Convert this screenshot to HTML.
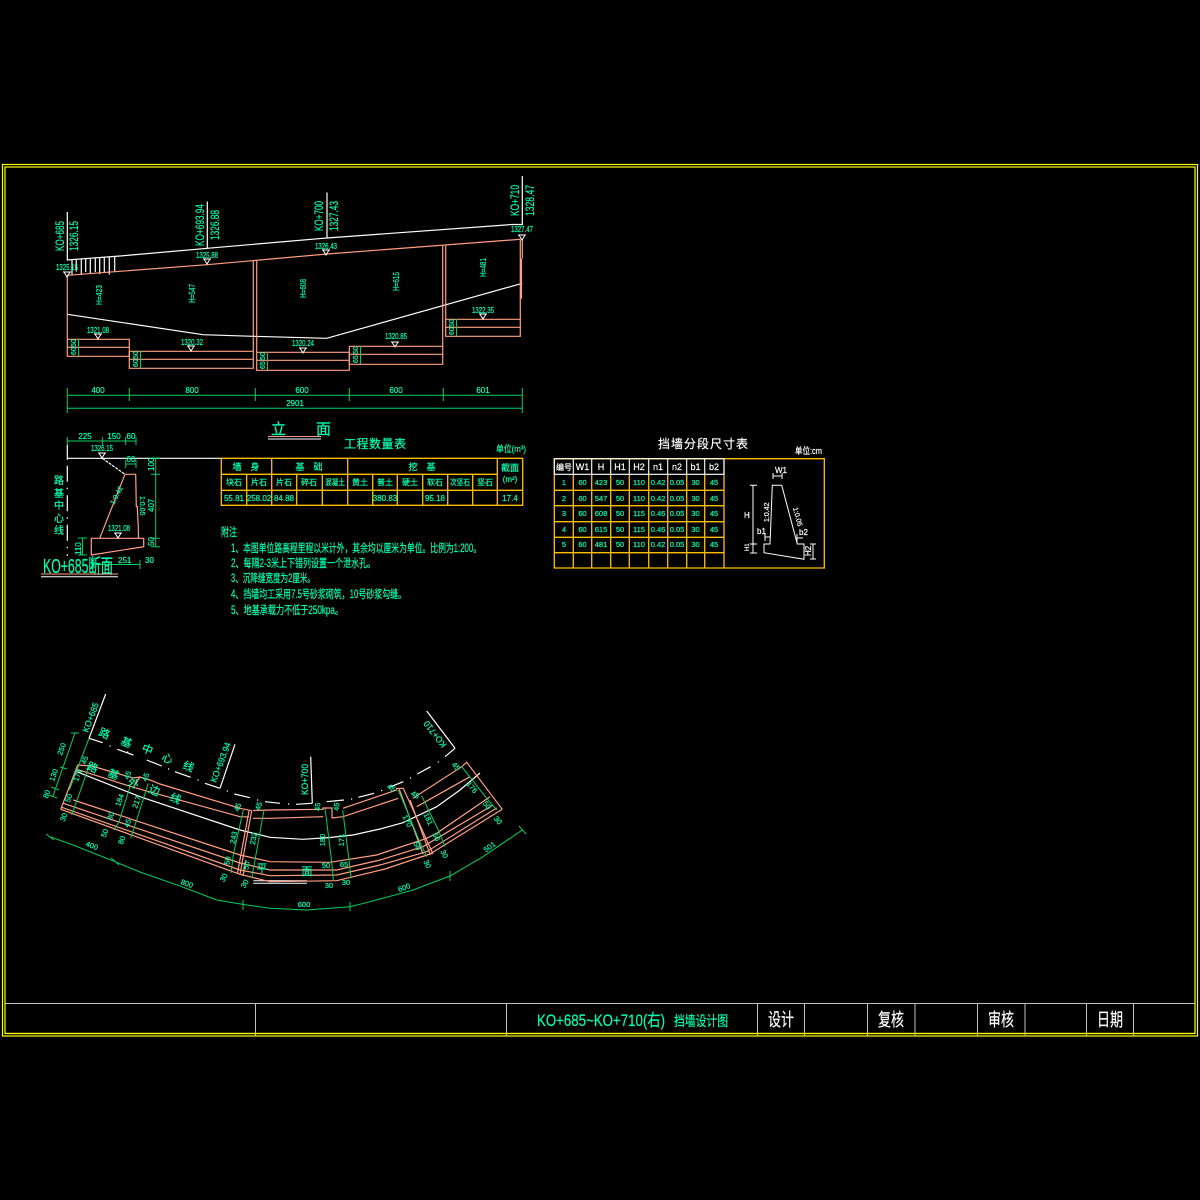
<!DOCTYPE html>
<html><head><meta charset="utf-8"><style>
html,body{margin:0;padding:0;background:#000;width:1200px;height:1200px;overflow:hidden}
svg{display:block}
text{font-family:"Liberation Sans","WenQuanYi Zen Hei","Noto Sans CJK SC",sans-serif;fill:#00ffb0;stroke:#00ffb0;stroke-width:.2}
.c{text-anchor:middle}
.s{fill:none;stroke:#ff9f80;stroke-width:1.2}
.w{fill:none;stroke:#fff;stroke-width:1.2}
.g{fill:none;stroke:#00d060;stroke-width:1}
.y{fill:none;stroke:#ffbf00;stroke-width:1.3}
text.wt{fill:#fff;stroke:#fff}
</style></head><body>
<svg width="1200" height="1200" viewBox="0 0 1200 1200" xmlns="http://www.w3.org/2000/svg">
<defs>
<g id="m"><path d="M-4 0H4M-3 0L0 5L3 0" fill="none" stroke="#fff" stroke-width="1"/></g>
</defs>
<rect width="1200" height="1200" fill="#000"/>

<!-- frame -->
<rect x="2.5" y="164.5" width="1195" height="871.5" fill="none" stroke="#ffff00" stroke-width="1.2"/>
<rect x="5" y="167" width="1190" height="866.5" fill="none" stroke="#ffff00" stroke-width="1.2"/>
<path d="M5 1003.5H1195M255.5 1003.5V1036M506.5 1003.5V1036M757.5 1003.5V1036M804.5 1003.5V1036M867.5 1003.5V1036M915 1003.5V1036M977.5 1003.5V1036M1025 1003.5V1036M1086.5 1003.5V1036M1133.5 1003.5V1036" stroke="#c0c0c0" fill="none" stroke-width="1"/>
<path d="M5 1033.5H1195" stroke="#ffff00" stroke-width="1.2"/>
<text x="537" y="1026" font-size="17" textLength="128" lengthAdjust="spacingAndGlyphs">KO+685~KO+710(右)</text>
<text x="674" y="1026" font-size="14" textLength="54" lengthAdjust="spacingAndGlyphs">挡墙设计图</text>
<text x="768" y="1026" font-size="18" class="wt" textLength="26" lengthAdjust="spacingAndGlyphs">设计</text>
<text x="878" y="1026" font-size="18" class="wt" textLength="26" lengthAdjust="spacingAndGlyphs">复核</text>
<text x="988" y="1026" font-size="18" class="wt" textLength="26" lengthAdjust="spacingAndGlyphs">审核</text>
<text x="1097" y="1026" font-size="18" class="wt" textLength="26" lengthAdjust="spacingAndGlyphs">日期</text>

<!-- elevation -->
<path class="w" d="M67.3 212V260L120 256L207.3 248.3V201.5M207.3 248.3L327 238V192.5M327 238L512 224.5H522.3V176"/>
<path class="w" d="M67.3 314.3L203 334.7L253 336.3L326.7 338.3L522.3 283.3"/>
<path class="w" d="M72 259V275.5M76.3 260V271.5M81.3 258.5V275M85.7 258.5V272M90.3 258.5V274M95.3 258.5V272M99.7 257.5V274M104.3 257V272M109.3 257V274.5M114.7 256.5V271"/>
<path class="s" d="M67.3 275.3L207 264.7L327 254L520.3 239.3"/>
<path class="s" d="M67.3 275.3V356.3H129.3V339.3H67.3M67.3 347.3H129.3"/>
<path class="s" d="M129.3 351.3V368.3H253.3V260.3M129.3 351.3H253.3M129.3 359.3H253.3"/>
<path class="s" d="M256.7 260V370.3H349.3V352.3H256.7M256.7 360.3H349.3"/>
<path class="s" d="M349.3 346.3V364.3H442.7V245.7M349.3 346.3H442.7M349.3 354.3H442.7"/>
<path class="s" d="M445.7 245.7V336.3H520.3V239.3M445.7 319.3H520.3M445.7 327.3H520.3"/>
<path class="s" d="M522.3 239V258.7" /><path d="M521 258.7V298.7" stroke="#ff9f80" stroke-width="2" fill="none"/>
<use href="#m" x="67" y="272"/><use href="#m" x="207" y="259"/><use href="#m" x="326" y="250"/><use href="#m" x="522" y="235"/>
<use href="#m" x="98" y="334"/><use href="#m" x="191" y="346"/><use href="#m" x="303" y="348"/><use href="#m" x="395" y="342"/><use href="#m" x="483" y="314"/>
<path class="g" d="M78.5 339V356M140.5 351V368M267.5 352V370M360.5 346V364M456.5 319V336"/>
<g font-size="12">
<text transform="translate(64,251) rotate(-90)" textLength="30" lengthAdjust="spacingAndGlyphs">KO+685</text>
<text transform="translate(78,251) rotate(-90)" textLength="30" lengthAdjust="spacingAndGlyphs">1326.15</text>
<text transform="translate(204,246) rotate(-90)" textLength="42" lengthAdjust="spacingAndGlyphs">KO+693.94</text>
<text transform="translate(219,240) rotate(-90)" textLength="30" lengthAdjust="spacingAndGlyphs">1326.88</text>
<text transform="translate(323,231) rotate(-90)" textLength="30" lengthAdjust="spacingAndGlyphs">KO+700</text>
<text transform="translate(338,231) rotate(-90)" textLength="30" lengthAdjust="spacingAndGlyphs">1327.43</text>
<text transform="translate(519,216) rotate(-90)" textLength="31" lengthAdjust="spacingAndGlyphs">KO+710</text>
<text transform="translate(534,216) rotate(-90)" textLength="31" lengthAdjust="spacingAndGlyphs">1328.47</text>
</g>
<g font-size="8">
<text x="56" y="270" textLength="22" lengthAdjust="spacingAndGlyphs">1325.15</text>
<text x="196" y="258" textLength="22" lengthAdjust="spacingAndGlyphs">1325.88</text>
<text x="315" y="249" textLength="22" lengthAdjust="spacingAndGlyphs">1326.43</text>
<text x="511" y="232" textLength="22" lengthAdjust="spacingAndGlyphs">1327.47</text>
<text x="87" y="333" textLength="22" lengthAdjust="spacingAndGlyphs">1321.08</text>
<text x="181" y="345" textLength="22" lengthAdjust="spacingAndGlyphs">1320.32</text>
<text x="292" y="346" textLength="22" lengthAdjust="spacingAndGlyphs">1320.24</text>
<text x="385" y="339" textLength="22" lengthAdjust="spacingAndGlyphs">1320.85</text>
<text x="472" y="313" textLength="22" lengthAdjust="spacingAndGlyphs">1322.35</text>
<text transform="translate(102,305) rotate(-90)" textLength="20" lengthAdjust="spacingAndGlyphs">H=423</text>
<text transform="translate(195,303) rotate(-90)" textLength="19" lengthAdjust="spacingAndGlyphs">H=547</text>
<text transform="translate(306,298) rotate(-90)" textLength="19" lengthAdjust="spacingAndGlyphs">H=608</text>
<text transform="translate(399,291) rotate(-90)" textLength="19" lengthAdjust="spacingAndGlyphs">H=615</text>
<text transform="translate(486,277) rotate(-90)" textLength="19" lengthAdjust="spacingAndGlyphs">H=481</text>
<g font-size="7">
<text transform="translate(76,347) rotate(-90)">50</text><text transform="translate(76,355) rotate(-90)">60</text>
<text transform="translate(138,359) rotate(-90)">50</text><text transform="translate(138,367) rotate(-90)">60</text>
<text transform="translate(265,360) rotate(-90)">50</text><text transform="translate(265,369) rotate(-90)">65</text>
<text transform="translate(358,354) rotate(-90)">50</text><text transform="translate(358,363) rotate(-90)">65</text>
<text transform="translate(454,327) rotate(-90)">50</text><text transform="translate(454,335) rotate(-90)">60</text>
</g>
<text class="c" x="98" y="393">400</text><text class="c" x="192" y="393">800</text><text class="c" x="302" y="393">600</text><text class="c" x="396" y="393">600</text><text class="c" x="483" y="393">601</text><text class="c" x="295" y="406">2901</text>
</g>
<path class="g" d="M67.3 395.3H522.3M67.3 408.3H522.3M67.3 388V401M129.3 388V401M255.3 388V401M349.3 388V401M443.3 388V401M522.3 388V413M67.3 401V413"/>

<!-- 立面 -->
<text x="271" y="434" font-size="15" textLength="14">立</text>
<text x="316" y="434" font-size="15" textLength="14">面</text>
<path d="M268 436.5H321" stroke="#ff9f80" stroke-width="1"/><path d="M268 439H321" stroke="#fff" stroke-width="1"/>

<!-- section -->
<path class="w" d="M67.3 445V458.3H221"/>
<path class="w" stroke-dasharray="1.5 6 16 6" d="M67.3 458.3V556"/>
<path class="w" stroke-dasharray="3 1" d="M102.3 458.3L125 474.3"/>
<path class="s" d="M125 474.3H135.7L136.3 506.7H137.3L138.3 528L138.5 538.3M125 474.3L99.7 538.3M91.3 538.3H143.7V546.7L91.3 555Z"/>
<path class="g" d="M67.3 441H136M67.3 437V445M102.3 437V445M125.7 437V445M136 437V445M125.7 464H136M125.7 460V468M136 460V468M155.7 458V546.7M151 458H160M151 474.3H160M151 538.3H160M151 546.7H160M82.5 538V555M78 538H87M78 555H87M92 564.5H140M92 560V569M140 560V569"/>
<use href="#m" x="102" y="453"/><use href="#m" x="118" y="533"/>
<g font-size="8">
<text class="c" x="85" y="439">225</text><text class="c" x="114" y="439">150</text><text class="c" x="131" y="439">60</text>
<text class="c" x="131" y="462">60</text>
<text x="91" y="451" textLength="22" lengthAdjust="spacingAndGlyphs">1326.15</text>
<text x="108" y="531" textLength="22" lengthAdjust="spacingAndGlyphs">1321.08</text>
<text transform="translate(154,471) rotate(-90)">100</text>
<text transform="translate(154,512) rotate(-90)">407</text>
<text transform="translate(154,546) rotate(-90)">50</text>
<text transform="translate(81,555) rotate(-90)">110</text>
<text x="118" y="563">251</text><text x="145" y="563">30</text>
<text transform="translate(114,505) rotate(-62)" font-size="7">1:0.42</text>
<text transform="translate(140,496) rotate(90)" font-size="7">1:0.05</text>
</g>
<g font-size="10"><text class="c" x="59" y="484">路</text><text class="c" x="59" y="497">基</text><text class="c" x="59" y="509">中</text><text class="c" x="59" y="522">心</text><text class="c" x="59" y="534">线</text></g>
<text x="43" y="573" font-size="20" textLength="70" lengthAdjust="spacingAndGlyphs">KO+685断面</text>
<path d="M41 574H118" stroke="#ff9f80" stroke-width="1"/><path d="M41 576.7H118" stroke="#fff" stroke-width="1"/>

<!-- table 1 -->
<path class="y" d="M221.3 458.3H522.7V505.3H221.3ZM221.3 474.3H497.3M221.3 490.3H522.7M271.7 458.3V505.3M347.7 458.3V505.3M497.3 458.3V505.3M246.7 474.3V505.3M296.7 474.3V505.3M322.3 474.3V505.3M372.7 474.3V505.3M397.3 474.3V505.3M422.7 474.3V505.3M447.7 474.3V505.3M472.7 474.3V505.3"/>
<g font-size="11">
<text x="344" y="448" textLength="62" font-size="12">工程数量表</text>
<text x="496" y="452" font-size="9" textLength="30" lengthAdjust="spacingAndGlyphs">单位(m³)</text>
<text class="c" x="246" y="470" font-size="9">墙　身</text>
<text class="c" x="309" y="470" font-size="9">基　础</text>
<text class="c" x="422" y="470" font-size="9">挖　基</text>
<text class="c" x="510" y="471" font-size="9">截面</text>
<text class="c" x="510" y="482" font-size="8">(m²)</text>
</g>
<g font-size="8">
<text class="c" x="234" y="485">块石</text><text class="c" x="259" y="485">片石</text><text class="c" x="284" y="485">片石</text><text class="c" x="309" y="485">碎石</text><text class="c" x="335" y="485" textLength="20" lengthAdjust="spacingAndGlyphs">混凝土</text><text class="c" x="360" y="485">黄土</text><text class="c" x="385" y="485">普土</text><text class="c" x="410" y="485">硬土</text><text class="c" x="435" y="485">软石</text><text class="c" x="460" y="485" textLength="20" lengthAdjust="spacingAndGlyphs">次坚石</text><text class="c" x="485" y="485">坚石</text>
<text class="c" x="234" y="501">55.81</text><text class="c" x="259" y="501">258.02</text><text class="c" x="284" y="501">84.88</text><text class="c" x="385" y="501">380.83</text><text class="c" x="435" y="501">95.18</text><text class="c" x="510" y="501">17.4</text>
</g>

<!-- notes -->
<g font-size="11.5">
<text x="221" y="536" textLength="16" lengthAdjust="spacingAndGlyphs">附注</text>
<text x="231" y="552" textLength="250" lengthAdjust="spacingAndGlyphs">1、本图单位路高程里程以米计外，其余均以厘米为单位。比例为1:200。</text>
<text x="231" y="567" textLength="144" lengthAdjust="spacingAndGlyphs">2、每隔2-3米上下错列设置一个泄水孔。</text>
<text x="231" y="582" textLength="84" lengthAdjust="spacingAndGlyphs">3、沉降缝宽度为2厘米。</text>
<text x="231" y="598" textLength="175" lengthAdjust="spacingAndGlyphs">4、挡墙均工采用7.5号砂浆砌筑，10号砂浆勾缝。</text>
<text x="231" y="614" textLength="112" lengthAdjust="spacingAndGlyphs">5、地基承载力不低于250kpa。</text>
</g>

<!-- table 2 -->
<path class="y" d="M554.3 458.7H824.3V568H554.3ZM554.3 490.3H724M554.3 505.7H724M554.3 521.7H724M554.3 537.3H724M554.3 552.7H724M573.3 474.3V568M591.7 474.3V568M610.7 474.3V568M629.3 474.3V568M648.7 474.3V568M667.7 474.3V568M686.7 474.3V568M704.7 474.3V568M724 458.7V568"/>
<path d="M554.3 458.7H724V474.3H554.3ZM573.3 458.7V474.3M591.7 458.7V474.3M610.7 458.7V474.3M629.3 458.7V474.3M648.7 458.7V474.3M667.7 458.7V474.3M686.7 458.7V474.3M704.7 458.7V474.3" fill="none" stroke="#fff" stroke-width="1.1"/>
<text class="wt" x="658" y="448" font-size="12" textLength="90" lengthAdjust="spacing">挡墙分段尺寸表</text>
<text class="wt" x="795" y="454" font-size="9" textLength="27" lengthAdjust="spacingAndGlyphs">单位:cm</text>
<g font-size="9">
<text class="wt c" x="564" y="470" font-size="8">编号</text><text class="wt c" x="582.5" y="470">W1</text><text class="wt c" x="601" y="470">H</text><text class="wt c" x="620" y="470">H1</text><text class="wt c" x="639" y="470">H2</text><text class="wt c" x="658" y="470">n1</text><text class="wt c" x="677" y="470">n2</text><text class="wt c" x="695.5" y="470">b1</text><text class="wt c" x="714" y="470">b2</text>
</g>
<g font-size="7.5">
<g><text class="c" x="564" y="485">1</text><text class="c" x="582.5" y="485">60</text><text class="c" x="601" y="485">423</text><text class="c" x="620" y="485">50</text><text class="c" x="639" y="485">110</text><text class="c" x="658" y="485">0.42</text><text class="c" x="677" y="485">0.05</text><text class="c" x="695.5" y="485">30</text><text class="c" x="714" y="485">45</text></g>
<g><text class="c" x="564" y="501">2</text><text class="c" x="582.5" y="501">60</text><text class="c" x="601" y="501">547</text><text class="c" x="620" y="501">50</text><text class="c" x="639" y="501">110</text><text class="c" x="658" y="501">0.42</text><text class="c" x="677" y="501">0.05</text><text class="c" x="695.5" y="501">30</text><text class="c" x="714" y="501">45</text></g>
<g><text class="c" x="564" y="516">3</text><text class="c" x="582.5" y="516">60</text><text class="c" x="601" y="516">608</text><text class="c" x="620" y="516">50</text><text class="c" x="639" y="516">115</text><text class="c" x="658" y="516">0.46</text><text class="c" x="677" y="516">0.05</text><text class="c" x="695.5" y="516">30</text><text class="c" x="714" y="516">45</text></g>
<g><text class="c" x="564" y="532">4</text><text class="c" x="582.5" y="532">60</text><text class="c" x="601" y="532">615</text><text class="c" x="620" y="532">50</text><text class="c" x="639" y="532">115</text><text class="c" x="658" y="532">0.46</text><text class="c" x="677" y="532">0.05</text><text class="c" x="695.5" y="532">30</text><text class="c" x="714" y="532">45</text></g>
<g><text class="c" x="564" y="547">5</text><text class="c" x="582.5" y="547">60</text><text class="c" x="601" y="547">481</text><text class="c" x="620" y="547">50</text><text class="c" x="639" y="547">110</text><text class="c" x="658" y="547">0.42</text><text class="c" x="677" y="547">0.05</text><text class="c" x="695.5" y="547">30</text><text class="c" x="714" y="547">45</text></g>
</g>
<!-- mini section -->
<path d="M772.3 485.3H781.7L797.3 544H804V559.3L764 552.7V544H770L772.3 485.3Z" fill="none" stroke="#fff" stroke-width="1"/>
<path d="M772.500 476H782M773 473V479M782 473V479M750 485.300H757M753 485.300V553M750 544H757M750 553H757" fill="none" stroke="#fff" stroke-width="1"/>
<path d="M765 537H770M765 533V541M797 538H803M797 534V542M813 544V559M810 544H816M810 559H816" fill="none" stroke="#fff" stroke-width="1"/>
<g font-size="8">
<text class="wt" x="775" y="473">W1</text><text class="wt" x="744" y="518">H</text>
<text class="wt" x="757" y="534">b1</text><text class="wt" x="799" y="535">b2</text>
<text class="wt" transform="translate(769,522) rotate(-90)" font-size="7">1:0.42</text>
<text class="wt" transform="translate(793,508) rotate(75)" font-size="7">1:0.05</text>
<text class="wt" transform="translate(749,551) rotate(-90)" font-size="6">H1</text>
<text class="wt" transform="translate(811,556) rotate(-90)">H2</text>
</g>

<!-- plan: center / white -->
<path class="w" d="M105.7 694L89 738.3"/>
<path class="w" d="M235 744.3L220 788.3"/>
<path class="w" d="M310.7 756.7L312.3 803.3"/>
<path class="w" d="M426.7 711L455 748.3"/>
<path class="w" d="M89 738.3L102.7 742.7M117.3 749.3L133.3 755M146.7 760L161.7 766M175 771.7L190.7 777.3M205 783.3L220 788.3M234.3 794L250 797.7M265 801.7L280 803.3M296 804.3L312.3 803.3M326.7 801.7L344 800M358.3 797.3L374 793.3M389.3 787.3L403.3 781.7M417.3 774L430.7 766.7M445 756.7L455 748.3"/>
<path d="M109.5 746h1.2M127 752h1.2M168 769h1.2M197.500 780h1.2M226.700 791h1.2M257 800h1.2M288 804h1.2M335 801h1.2M351 799h1.2M381 790.500h1.2M410 778h1.2M437.700 762h1.2" stroke="#fff" stroke-width="1.2"/>
<path class="w" d="M76.700 771.700L140 796.700L240 830L270 837.300L303 839.300L330 837.500L353 835L380 829L403 822.700L436.700 806.700L460 790L480 773"/>
<path d="M253.300 880.700H307M253.300 883.300H307" stroke="#fff" stroke-width="1"/>
<!-- plan: salmon -->
<path class="s" d="M77.700 765L60.700 809.300"/>
<path class="s" d="M91.700 766L133.300 778L140 777L150 780L160 784L240 808.300L251.700 810.700"/>
<path class="s" d="M76.700 769.300L133.300 787.300L140 777M133.300 787.300L240 816.700L249 817"/>
<path class="s" d="M77.700 765L91.700 766"/>
<path class="s" d="M253 810.500L270 810L323 809.300V808H332V818M343 808.300L396.700 790V788.500L403.300 788.300L432.700 853.300L418 858"/>
<path class="s" d="M253 818.300L270 818.300L323.300 816.700M332 818L343 816.700L398.300 798.300"/>
<path class="s" d="M399.300 789.300L423 854M410 800L430 854"/>
<path class="s" d="M413 798.300L461.700 766.700L466.700 762.300L502.300 809.300M416.700 806.700L470 776.700"/>
<path class="s" d="M73.300 800L240 855L270 861.700L330 862.300L376.700 855L426.700 838.300L436.700 833.300L490 796.700"/>
<path class="s" d="M63.300 803.300L240 863L270 870L336.700 870L380 860L423 846.700L493 805"/>
<path class="s" d="M61.700 807.300L240 870L270 875.700L336.700 875L380 865L426.700 851.700L496.700 808"/>
<path class="s" d="M60.700 809.300L240 874.300L270 881.700L336.700 880.700L385 869L430 854L502.300 809.300"/>
<path class="s" d="M251.700 810.700L240 874.300M249 811L237.500 873M246 860L243 876"/>
<!-- plan: green -->
<path class="g" d="M50 836.700L73 845L115 861.700L140 872L181.700 886.700L216.700 900L246.700 905L270 908.300L306.700 910L350 906.700L370 901.700L413 890L450 876L483 856.700L522.300 830"/>
<path class="g" d="M46 834L54 840M111 858L119 865M243 900V910M350 902V911M450 871V881M519 826L526 834"/>
<path class="g" d="M75 733L52.700 796.700M71 733H79M60 767L67 769M51 787L59 790M49 795L57 798"/>
<path class="g" d="M89 738.300L69.300 790M90 763.300L78.300 796.700L71.700 815M130 786.700L119 821.700L114 830M148.300 783.300L136.700 820L130.700 838.300M243.300 810L233.300 855L231 873M264 810L255 860L251.700 878.300M325 808.300L331.700 861.700L333.300 880M342.700 810L349 860L351 878.300M398.300 790L418.300 838.300L426.700 856.700M421.700 796L438.300 830L445 846.700M461.700 766.700L486.700 798.300L496.700 810"/>
<!-- plan: labels -->
<g font-size="9">
<text transform="translate(88,733) rotate(-69)" textLength="31" lengthAdjust="spacingAndGlyphs">KO+685</text>
<text transform="translate(216,783) rotate(-69)" textLength="42" lengthAdjust="spacingAndGlyphs">KO+693.94</text>
<text transform="translate(308,795) rotate(-90)" textLength="31" lengthAdjust="spacingAndGlyphs">KO+700</text>
<text transform="translate(447,744.500) rotate(-128)" textLength="31" lengthAdjust="spacingAndGlyphs">KO+710</text>
</g>
<g font-size="11">
<text class="c" transform="translate(103,737) rotate(22)">路</text><text class="c" transform="translate(125,746) rotate(22)">基</text><text class="c" transform="translate(146,753) rotate(22)">中</text><text class="c" transform="translate(166,762) rotate(22)">心</text><text class="c" transform="translate(187,770) rotate(22)">线</text>
<text class="c" transform="translate(91,771) rotate(22)">路</text><text class="c" transform="translate(112,778) rotate(22)">基</text><text class="c" transform="translate(132,787) rotate(22)">外</text><text class="c" transform="translate(153,794) rotate(22)">边</text><text class="c" transform="translate(174,802) rotate(22)">线</text>
<text class="c" x="262" y="872">平</text><text class="c" x="307" y="875">面</text>
</g>
<g font-size="7.5">
<text class="c" transform="translate(64,750) rotate(-70)">250</text>
<text class="c" transform="translate(56,776) rotate(-70)">130</text>
<text class="c" transform="translate(49,795) rotate(-70)">80</text>
<text class="c" transform="translate(80,776) rotate(-70)">171</text>
<text class="c" transform="translate(71,799) rotate(-70)">50</text>
<text class="c" transform="translate(66,818) rotate(-70)">30</text>
<text class="c" transform="translate(87,761) rotate(-70)">45</text>
<text class="c" transform="translate(122,801) rotate(-70)">184</text>
<text class="c" transform="translate(139,803) rotate(-70)">217</text>
<text class="c" transform="translate(113,817) rotate(-70)">30</text>
<text class="c" transform="translate(130,824) rotate(-70)">45</text>
<text class="c" transform="translate(107,834) rotate(-70)">50</text>
<text class="c" transform="translate(124,841) rotate(-70)">80</text>
<text class="c" transform="translate(130,776) rotate(-70)">45</text>
<text class="c" transform="translate(148,778) rotate(-70)">45</text>
<text class="c" transform="translate(240,808) rotate(-70)">45</text>
<text class="c" transform="translate(261,807) rotate(-70)">45</text>
<text class="c" transform="translate(236,838) rotate(-80)">243</text>
<text class="c" transform="translate(256,839) rotate(-80)">232</text>
<text class="c" transform="translate(230,861) rotate(-80)">50</text>
<text class="c" transform="translate(249,866) rotate(-80)">50</text>
<text class="c" transform="translate(226,879) rotate(-60)">30</text>
<text class="c" transform="translate(247,885) rotate(-60)">30</text>
<text class="c" transform="translate(320,807) rotate(-85)">45</text>
<text class="c" transform="translate(339,807) rotate(-85)">45</text>
<text class="c" transform="translate(325,840) rotate(-90)">180</text>
<text class="c" transform="translate(344,840) rotate(-90)">171</text>
<text class="c" transform="translate(326,868)">50</text>
<text class="c" transform="translate(344,867)">65</text>
<text class="c" transform="translate(329,888)">30</text>
<text class="c" transform="translate(346,885)">30</text>
<text class="c" transform="translate(390,790) rotate(30)">45</text>
<text class="c" transform="translate(414,797) rotate(30)">45</text>
<text class="c" transform="translate(405,822) rotate(65)">170</text>
<text class="c" transform="translate(426,820) rotate(65)">181</text>
<text class="c" transform="translate(415,847) rotate(65)">50</text>
<text class="c" transform="translate(434,838) rotate(65)">50</text>
<text class="c" transform="translate(425,865) rotate(65)">30</text>
<text class="c" transform="translate(442,855) rotate(65)">30</text>
<text class="c" transform="translate(454,768) rotate(50)">45</text>
<text class="c" transform="translate(470,789) rotate(50)">176</text>
<text class="c" transform="translate(485,807) rotate(50)">50</text>
<text class="c" transform="translate(496,822) rotate(50)">30</text>
<text class="c" transform="translate(91,848) rotate(20)">400</text>
<text class="c" transform="translate(186,886) rotate(20)">800</text>
<text class="c" transform="translate(304,907)">600</text>
<text class="c" transform="translate(405,890) rotate(-20)">600</text>
<text class="c" transform="translate(491,849) rotate(-35)">501</text>
</g>
</svg>
</body></html>
